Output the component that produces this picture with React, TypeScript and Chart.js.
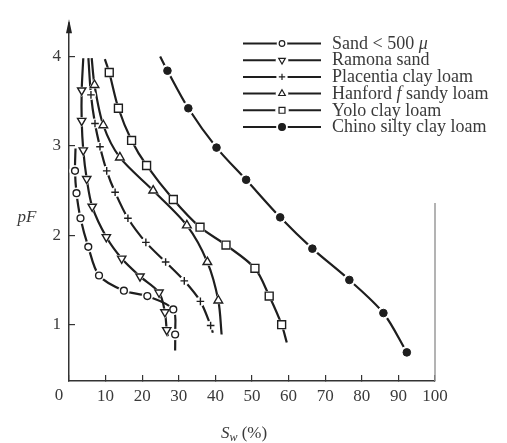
import React, { useEffect, useRef } from 'react';
import { Chart, registerables } from 'chart.js';
import { drawPoint } from 'chart.js/helpers';

Chart.register(...registerables);

type P = [number, number];

// ---- data (x = Sw %, y = pF) ----
const sandMarks: P[] = [[1.64, 2.72], [2.05, 2.47], [3.14, 2.19], [5.27, 1.87], [8.2, 1.55], [15.0, 1.38], [21.4, 1.32], [28.5, 1.17], [29.0, 0.89]];
const sandEnds: (P | null)[] = [[1.78, 2.97], [29.0, 0.71]];

const ramonaMarks: P[] = [[3.47, 3.62], [3.47, 3.28], [3.9, 2.95], [4.84, 2.63], [6.34, 2.32], [10.2, 1.98], [14.4, 1.74], [19.4, 1.54], [24.6, 1.36], [26.2, 1.14], [26.7, 0.94]];
const ramonaEnds: (P | null)[] = [[3.9, 3.98], [27.0, 0.87]];

const placentiaMarks: P[] = [[6.0, 3.57], [7.1, 3.25], [8.47, 2.99], [10.3, 2.72], [12.6, 2.48], [16.1, 2.19], [21.0, 1.92], [26.4, 1.70], [31.5, 1.49], [35.9, 1.26], [38.7, 0.99]];
const placentiaEnds: (P | null)[] = [[5.3, 3.98], [39.3, 0.91]];

const hanfordMarks: P[] = [[6.97, 3.68], [9.37, 3.23], [13.9, 2.87], [23.0, 2.50], [32.2, 2.11], [37.8, 1.70], [40.8, 1.27]];
const hanfordEnds: (P | null)[] = [[6.2, 3.98], [41.7, 0.89]];

const yoloMarks: P[] = [[11.0, 3.82], [13.5, 3.42], [17.1, 3.06], [21.2, 2.78], [28.5, 2.40], [35.8, 2.09], [42.9, 1.89], [50.8, 1.63], [54.7, 1.32], [58.1, 1.00]];
const yoloEnds: (P | null)[] = [[9.8, 3.97], [59.5, 0.80]];

const chinoMarks: P[] = [[26.9, 3.84], [32.6, 3.42], [40.3, 2.98], [48.4, 2.62], [57.7, 2.20], [66.5, 1.85], [76.6, 1.50], [85.9, 1.13], [92.3, 0.69]];
const chinoEnds: (P | null)[] = [[24.9, 4.0], null];

const xTickValues = [0, 10, 20, 30, 40, 50, 60, 70, 80, 90, 100];
const yTickValues = [1, 2, 3, 4];

// legend text: segments [text, italic]
const legendLabels: [string, boolean][][] = [
  [['Sand < 500 ', false], ['μ', true]],
  [['Ramona sand', false]],
  [['Placentia clay loam', false]],
  [['Hanford ', false], ['f', true], [' sandy loam', false]],
  [['Yolo clay loam', false]],
  [['Chino silty clay loam', false]],
];

// ---- styles ----
const INK = '#1e1e1e';
const TEXT = '#3a3a3a';
const FONT = '"Liberation Serif", "DejaVu Serif", serif';

type Sty = { style: string; r: number; fill: string; rot: number; halo: number; lr: number; bw: number };
const styles: Sty[] = [
  { style: 'circle', r: 3.4, fill: '#fff', rot: 0, halo: 5.2, lr: 2.8, bw: 1.4 },
  { style: 'triangle', r: 4.8, fill: '#fff', rot: 180, halo: 6, lr: 3.8, bw: 1.4 },
  { style: 'cross', r: 3.8, fill: '#fff', rot: 0, halo: 4.5, lr: 3.2, bw: 1.4 },
  { style: 'triangle', r: 5, fill: '#fff', rot: 0, halo: 6.2, lr: 3.8, bw: 1.4 },
  { style: 'rect', r: 5.6, fill: '#fff', rot: 0, halo: 6.2, lr: 4.2, bw: 1.4 },
  { style: 'circle', r: 3.8, fill: INK, rot: 0, halo: 6, lr: 3.4, bw: 1 },
];

const soilMarks = [sandMarks, ramonaMarks, placentiaMarks, hanfordMarks, yoloMarks, chinoMarks];
const soilEnds = [sandEnds, ramonaEnds, placentiaEnds, hanfordEnds, yoloEnds, chinoEnds];

const toXY = (p: P) => ({ x: p[0], y: p[1] });

function buildDatasets() {
  const ds: any[] = [];
  soilMarks.forEach((marks, i) => {
    const ends = soilEnds[i];
    const s = styles[i];
    const curve: P[] = [...(ends[0] ? [ends[0]] : []), ...marks, ...(ends[1] ? [ends[1]] : [])];
    ds.push({
      data: curve.map(toXY),
      showLine: true,
      borderColor: INK,
      borderWidth: 2.2,
      tension: 0.3,
      pointRadius: 0,
      order: 30,
      clip: false,
    });
    ds.push({
      data: marks.map(toXY),
      showLine: false,
      pointStyle: s.style === 'cross' ? 'circle' : s.style,
      pointRotation: s.rot,
      pointRadius: s.halo,
      pointBackgroundColor: '#fff',
      pointBorderColor: '#fff',
      pointBorderWidth: 1,
      order: 20,
      clip: false,
    });
    ds.push({
      data: marks.map(toXY),
      showLine: false,
      pointStyle: s.style,
      pointRotation: s.rot,
      pointRadius: s.r,
      pointBackgroundColor: s.fill,
      pointBorderColor: INK,
      pointBorderWidth: s.bw,
      order: 10,
      clip: false,
    });
  });
  return ds;
}

const decorPlugin = {
  id: 'decor',
  afterDraw(chart: any) {
    const ctx: CanvasRenderingContext2D = chart.ctx;
    const xs = chart.scales.x;
    const ys = chart.scales.y;
    const area = chart.chartArea;
    ctx.save();
    // arrow on y axis
    const ax = area.left;
    ctx.strokeStyle = '#333';
    ctx.lineWidth = 1.5;
    ctx.beginPath();
    ctx.moveTo(ax, area.top);
    ctx.lineTo(ax, area.top - 2);
    ctx.stroke();
    ctx.fillStyle = '#222';
    ctx.beginPath();
    ctx.moveTo(ax, area.top - 5);
    ctx.lineTo(ax - 3, area.top + 9);
    ctx.lineTo(ax + 3, area.top + 9);
    ctx.closePath();
    ctx.fill();

    // partial right frame line at x = 100
    ctx.strokeStyle = '#9a9a9a';
    ctx.lineWidth = 1.5;
    const rx = xs.getPixelForValue(100);
    ctx.beginPath();
    ctx.moveTo(rx, ys.getPixelForValue(2.36));
    ctx.lineTo(rx, area.bottom);
    ctx.stroke();

    // "0" label at origin
    ctx.fillStyle = TEXT;
    ctx.font = `17px ${FONT}`;
    ctx.textAlign = 'center';
    ctx.textBaseline = 'middle';
    ctx.fillText('0', xs.getPixelForValue(0) - 10, area.bottom + 15);

    // y title
    ctx.font = `italic 17px ${FONT}`;
    ctx.fillText('pF', 27, ys.getPixelForValue(2.2));

    // x title  S_w (%)
    const cx = (xs.left + xs.right) / 2 - 8;
    const ty = area.bottom + 53;
    ctx.textAlign = 'left';
    ctx.font = `italic 17px ${FONT}`;
    const wS = ctx.measureText('S').width;
    ctx.font = `italic 12px ${FONT}`;
    const wW = ctx.measureText('w').width;
    ctx.font = `17px ${FONT}`;
    const wP = ctx.measureText(' (%)').width;
    let tx = cx - (wS + wW + wP) / 2;
    ctx.font = `italic 17px ${FONT}`;
    ctx.fillText('S', tx, ty);
    tx += wS;
    ctx.font = `italic 12px ${FONT}`;
    ctx.fillText('w', tx, ty + 4);
    tx += wW;
    ctx.font = `17px ${FONT}`;
    ctx.fillText(' (%)', tx, ty);

    // legend
    const lx0 = 243, lx1 = 321, mx = 282, tx0 = 332;
    legendLabels.forEach((segs, i) => {
      const y = 43.5 + i * 16.7;
      const s = styles[i];
      ctx.strokeStyle = INK;
      ctx.lineWidth = 2;
      ctx.beginPath();
      ctx.moveTo(lx0, y);
      ctx.lineTo(lx1, y);
      ctx.stroke();
      ctx.fillStyle = '#fff';
      ctx.beginPath();
      ctx.arc(mx, y, s.lr + 2.5, 0, Math.PI * 2);
      ctx.fill();
      ctx.fillStyle = s.fill;
      ctx.strokeStyle = INK;
      ctx.lineWidth = 1.2;
      drawPoint(ctx, { pointStyle: s.style, rotation: s.rot, radius: s.lr, borderWidth: 1.2 } as any, mx, y);
      let x = tx0;
      ctx.fillStyle = TEXT;
      ctx.textBaseline = 'middle';
      ctx.textAlign = 'left';
      segs.forEach(([t, it]) => {
        ctx.font = `${it ? 'italic ' : ''}18px ${FONT}`;
        ctx.fillText(t, x, y + 0.5);
        x += ctx.measureText(t).width;
      });
    });
    ctx.restore();
  },
};

export default function App() {
  const ref = useRef<HTMLCanvasElement>(null);
  useEffect(() => {
    if (!ref.current) return;
    const chart = new Chart(ref.current, {
      type: 'scatter',
      data: { datasets: buildDatasets() },
      options: {
        responsive: false,
        animation: false,
        events: [],
        layout: { padding: { top: 14, right: 72, left: 0, bottom: 0 } },
        plugins: { legend: { display: false }, tooltip: { enabled: false } },
        scales: {
          x: {
            type: 'linear',
            min: 0,
            max: 100,
            afterBuildTicks: (s: any) => { s.ticks = xTickValues.map((v) => ({ value: v })); },
            afterFit: (s: any) => { s.height = 62; },
            ticks: {
              callback: (v: any) => (v === 0 ? '' : String(v)),
              color: TEXT,
              font: { family: FONT, size: 17 },
              padding: 11,
              maxRotation: 0,
              autoSkip: false,
            },
            grid: { drawOnChartArea: false, tickLength: -6, color: '#333', lineWidth: 1.2 },
            border: { display: true, color: '#333', width: 1.5 },
          },
          y: {
            type: 'linear',
            min: 0.37,
            max: 4.36,
            afterBuildTicks: (s: any) => { s.ticks = yTickValues.map((v) => ({ value: v })); },
            afterFit: (s: any) => { s.width = 69; },
            ticks: {
              color: TEXT,
              font: { family: FONT, size: 17 },
              padding: 14,
              autoSkip: false,
            },
            grid: { drawOnChartArea: false, tickLength: -6, color: '#333', lineWidth: 1.2 },
            border: { display: true, color: '#333', width: 1.5 },
          },
        },
      },
      plugins: [decorPlugin],
    } as any);
    return () => chart.destroy();
  }, []);
  return (
    <div style={{ position: 'fixed', left: 0, top: 0, width: 507, height: 443, background: '#fff' }}>
      <canvas ref={ref} width={507} height={443} style={{ width: 507, height: 443, display: 'block' }} />
    </div>
  );
}
